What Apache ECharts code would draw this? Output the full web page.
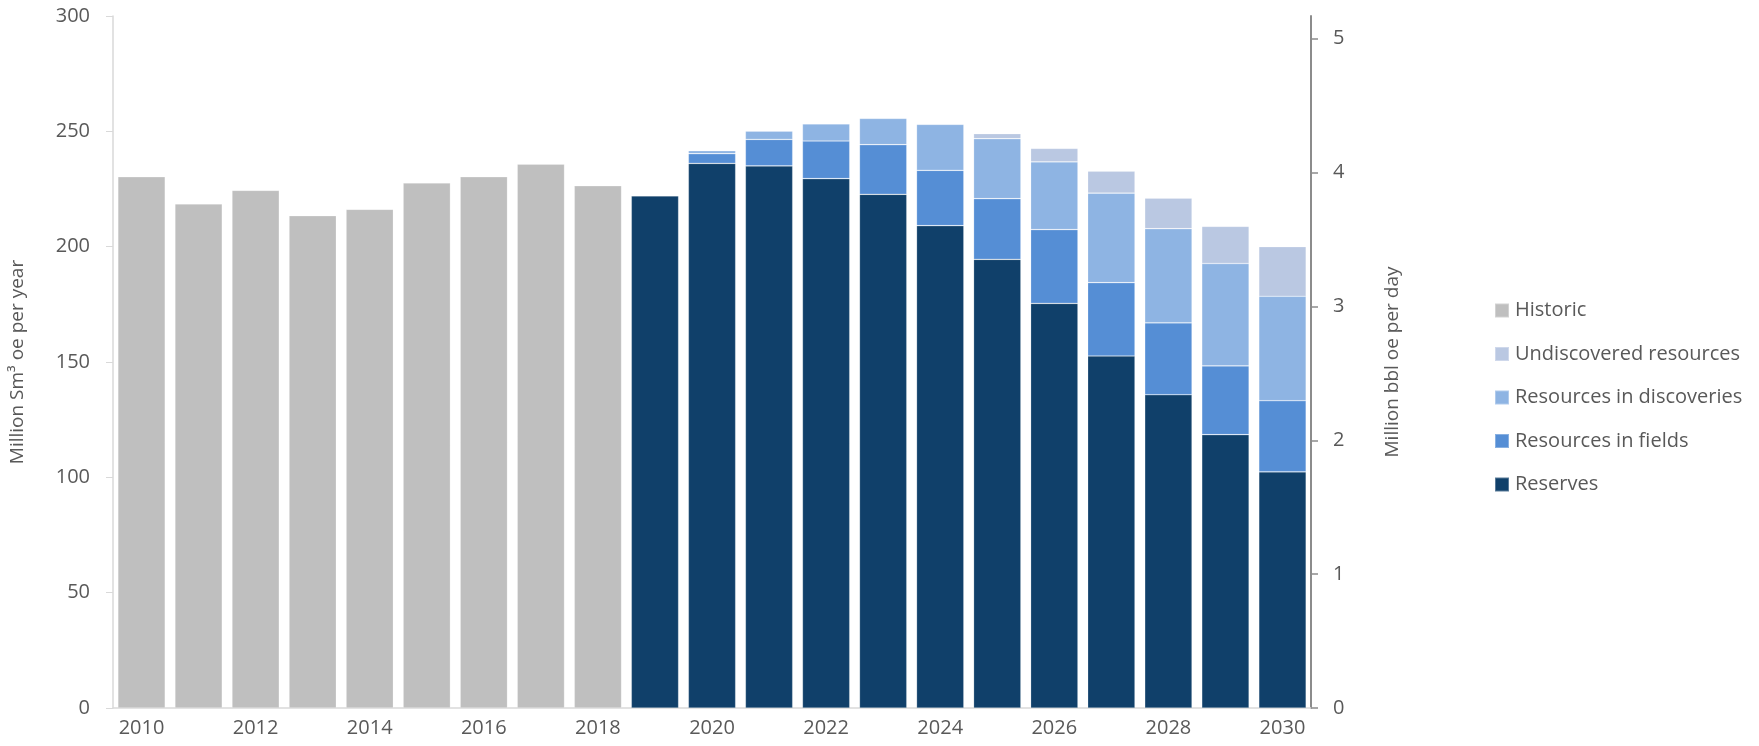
<!DOCTYPE html>
<html>
<head>
<meta charset="utf-8">
<script src="https://cdn.jsdelivr.net/npm/echarts@6/dist/echarts.min.js"></script>
<style>
html,body{margin:0;padding:0;background:#fff;}
#chart{width:1759px;height:746px;}
</style>
</head>
<body>
<div id="chart"></div>
<script>
var years = ['2010','2011','2012','2013','2014','2015','2016','2017','2018','2019','2020','2021','2022','2023','2024','2025','2026','2027','2028','2029','2030'];
var historic = [230.3,218.5,224.4,213.4,216.2,227.6,230.3,235.8,226.4,null,null,null,null,null,null,null,null,null,null,null,null];
var reserves = [null,null,null,null,null,null,null,null,null,222.0,236.1,235.0,229.5,222.7,209.1,194.5,175.4,152.6,135.8,118.5,102.4];
var fields = [null,null,null,null,null,null,null,null,null,null,4.2,11.5,16.3,21.5,24.0,26.3,32.0,31.8,31.2,29.8,30.8];
var discoveries = [null,null,null,null,null,null,null,null,null,null,1.3,3.6,7.4,11.4,19.9,26.0,29.4,38.8,40.8,44.4,45.3];
var undiscovered = [null,null,null,null,null,null,null,null,null,null,null,null,null,null,null,2.2,5.8,9.5,13.2,16.1,21.5];
var leftTicks = [0,50,100,150,200,250,300];
var rightTicks = [0,1,2,3,4,5];
var rightMax = 300 * 6.29 / 365;

var font = 'Open Sans';
var txt = '#595959';
var chart = echarts.init(document.getElementById('chart'));
function bar(name, data, color) {
  return {
    name: name, type: 'bar', stack: 'total', data: data,
    barCategoryGap: '17%',
    itemStyle: {color: color, borderColor: 'rgba(255,255,255,0.3)', borderWidth: 0.7},
    emphasis: {disabled: true}
  };
}
chart.setOption({
  animation: false,
  textStyle: {fontFamily: font},
  grid: {left: 111, right: 448, top: 16, bottom: 38},
  legend: {
    orient: 'vertical', left: 1489, top: 295,
    itemWidth: 14, itemHeight: 14, itemGap: 22.5,
    icon: 'rect',
    textStyle: {fontFamily: font, fontSize: 20, color: txt, lineHeight: 21, padding: [0,0,0,1]},
    data: ['Historic','Undiscovered resources','Resources in discoveries','Resources in fields','Reserves']
  },
  xAxis: {
    type: 'category', data: years,
    axisLine: {lineStyle: {color: '#d9d9d9', width: 1.5}},
    axisTick: {show: false},
    axisLabel: {interval: 1, color: txt, fontSize: 20, margin: 10, fontFamily: font}
  },
  yAxis: [
    {
      type: 'value', min: 0, max: 300, interval: 50, position: 'left',
      name: 'Million Sm³ oe per year', nameLocation: 'middle', nameGap: 86,
      nameTextStyle: {color: txt, fontSize: 19, fontFamily: font},
      axisLine: {show: true, lineStyle: {color: '#d9d9d9', width: 1.5}},
      axisTick: {show: true, length: 7, lineStyle: {color: '#d9d9d9'}, customValues: leftTicks},
      axisLabel: {color: txt, fontSize: 20, margin: 23, fontFamily: font, customValues: leftTicks},
      splitLine: {show: false}
    },
    {
      type: 'value', min: 0, max: rightMax, interval: 1, position: 'right',
      name: 'Million bbl oe per day', nameLocation: 'middle', nameGap: 72, nameRotate: 90,
      nameTextStyle: {color: txt, fontSize: 19, fontFamily: font},
      axisLine: {show: true, lineStyle: {color: '#8c8c8c', width: 2}},
      axisTick: {show: true, length: 7, lineStyle: {color: '#8c8c8c', width: 1.5}, customValues: rightTicks},
      axisLabel: {color: txt, fontSize: 20, margin: 22, fontFamily: font, customValues: rightTicks},
      splitLine: {show: false}
    }
  ],
  series: [
    bar('Historic', historic, '#bfbfbf'),
    bar('Reserves', reserves, '#10406a'),
    bar('Resources in fields', fields, '#558ed5'),
    bar('Resources in discoveries', discoveries, '#8eb4e3'),
    bar('Undiscovered resources', undiscovered, '#bac8e2')
  ]
});
</script>
</body>
</html>
